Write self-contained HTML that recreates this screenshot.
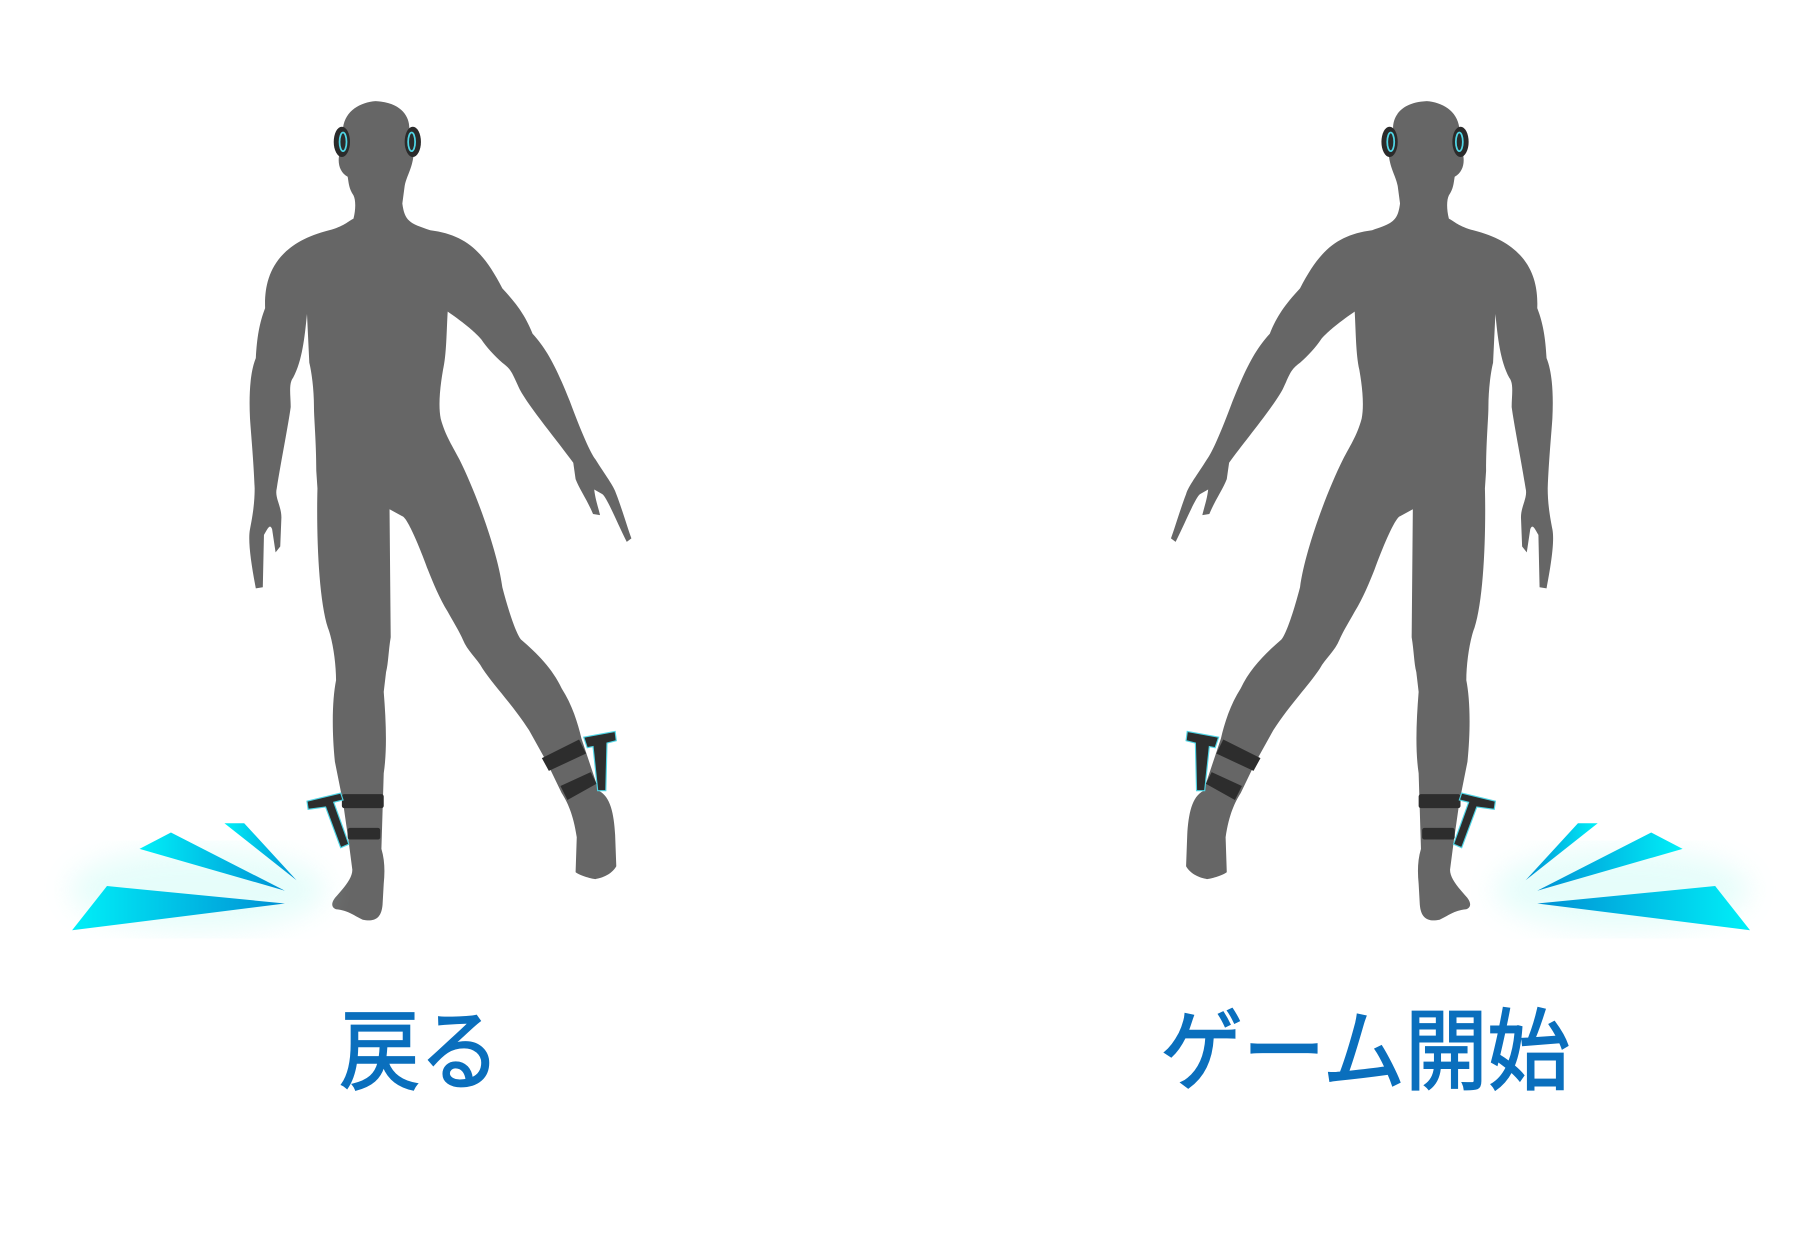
<!DOCTYPE html>
<html><head><meta charset="utf-8"><style>
html,body{margin:0;padding:0;background:#fff;}
svg{display:block;}
text{font-family:"Liberation Sans","Noto Sans CJK JP",sans-serif;fill:#0a6fbd;stroke:#0a6fbd;stroke-width:1.5;font-weight:normal;}
</style></head><body>
<svg width="1814" height="1250" viewBox="0 0 1560 1075" preserveAspectRatio="none">
<defs>
<linearGradient id="gl" x1="0" x2="1" y1="0" y2="0"><stop offset="0" stop-color="#00f0f8"/><stop offset="1" stop-color="#0090d4"/></linearGradient>
<linearGradient id="gr" x1="1" x2="0" y1="0" y2="0"><stop offset="0" stop-color="#00f0f8"/><stop offset="1" stop-color="#0090d4"/></linearGradient>
<filter id="blur"><feGaussianBlur stdDeviation="12"/></filter>
<g id="fig">
<path fill="#666" d="M323,87 C345,88 352,100 352,110 L356,130 C355,145 350,150 348,160 L346,175 C348,190 352,192 370,198 C400,202 415,215 432,248 C445,262 452,272 458,287 C470,300 478,315 490,345 C500,372 508,390 512,395 C520,408 528,418 530,425 C535,438 540,455 543,463 L539,466 C530,448 522,428 518,425 L511,421 C512,430 515,438 516,443 L510,442 C505,430 498,420 495,412 L493,398 C480,380 455,350 447,335 C440,320 440,318 432,312 C425,306 418,298 414,292 C406,282 385,268 385,268 C384,285 384,305 381,318 C378,335 377,350 379,360 C383,375 390,385 395,395 C410,425 428,475 432,505 C438,528 444,545 448,550 C462,562 475,575 483,592 C492,606 497,622 500,635 L505,650 L515,680 C525,685 528,700 529,718 L530,745 C526,752 518,755 512,756 C505,755 497,752 495,750 L496,720 C493,700 488,690 483,682 L470,655 L455,628 C440,605 425,590 415,575 C410,566 402,560 398,550 C395,543 390,535 385,526 C378,515 372,500 368,490 C360,468 350,445 346,444 L335,438 L336,548 C334,560 334,570 332,578 L330,595 C332,620 333,645 330,665 L328,730 C331,740 331,750 330,760 L329,778 C328,790 322,793 312,791 C305,788 300,783 289,782 C284,780 285,775 290,770 C297,762 303,755 303,748 L300,725 L295,690 L288,655 C285,625 286,600 289,585 C289,570 286,550 282,540 C274,515 272,460 273,420 L272,405 C272,380 270,360 270,350 C270,335 268,320 266,312 L264,270 C262,290 260,310 252,325 C248,330 250,340 250,350 C248,365 242,395 238,420 C236,428 242,435 242,445 L241,470 L237,475 L234,455 C232,450 230,455 227,460 L226,505 L220,506 C216,485 213,465 215,455 C218,440 219,430 219,420 C218,395 216,375 215,360 C214,340 215,320 220,308 C221,290 223,278 228,265 C227,240 235,210 283,198 C295,195 300,190 304,188 C306,180 306,172 304,168 C300,162 300,158 299,152 C292,148 290,140 292,132 L295,110 C297,95 310,88 323,87 Z"/>
<g>
<ellipse cx="294" cy="122" rx="7" ry="13" fill="#2b2b2b"/><ellipse cx="295" cy="122" rx="3" ry="8" fill="none" stroke="#4fd6e6" stroke-width="1.5"/>
<ellipse cx="355" cy="122" rx="7" ry="13" fill="#2b2b2b"/><ellipse cx="354" cy="122" rx="3" ry="8" fill="none" stroke="#4fd6e6" stroke-width="1.5"/>
</g>
<g fill="#2d2d2d">
<rect x="294" y="683" width="36" height="12" rx="2"/>
<rect x="299" y="712" width="28" height="10" rx="2"/>
<path d="M264,689 L293,682 L295,688 L287,690 L300,726 L293,729 L280,694 L265,696 Z" stroke="#4fd6e6" stroke-width="1"/>
</g>
<g fill="#2d2d2d">
<path d="M466,652 L498,636 L504,648 L472,663 Z"/>
<path d="M482,676 L508,664 L513,674 L488,688 Z"/>
<path d="M502,634 L529,629 L530,637 L522,639 L521,680 L514,680 L510,642 L505,643 Z" stroke="#4fd6e6" stroke-width="1"/>
</g>
</g>
</defs>
<g><use href="#fig"/></g>
<g transform="translate(1550,0) scale(-1,1)"><use href="#fig"/></g>
<g>
<ellipse cx="170" cy="765" rx="110" ry="35" fill="#c8fbf5" opacity="0.45" filter="url(#blur)"/>
<polygon points="62,800 92,762 245,777" fill="url(#gl)"/>
<polygon points="120,730 147,716 245,766" fill="url(#gl)"/>
<polygon points="193,708 210,708 255,757" fill="url(#gl)"/>
</g>
<g>
<ellipse cx="1395" cy="765" rx="110" ry="35" fill="#c8fbf5" opacity="0.45" filter="url(#blur)"/>
<polygon points="1505,800 1475,762 1322,777" fill="url(#gr)"/>
<polygon points="1447,730 1420,716 1322,766" fill="url(#gr)"/>
<polygon points="1374,708 1357,708 1312,757" fill="url(#gr)"/>
</g>
<text x="292" y="931" font-size="76" textLength="138" lengthAdjust="spacingAndGlyphs">戻る</text>
<text x="998" y="931" font-size="76" textLength="352" lengthAdjust="spacingAndGlyphs">ゲーム開始</text>
</svg>
</body></html>
